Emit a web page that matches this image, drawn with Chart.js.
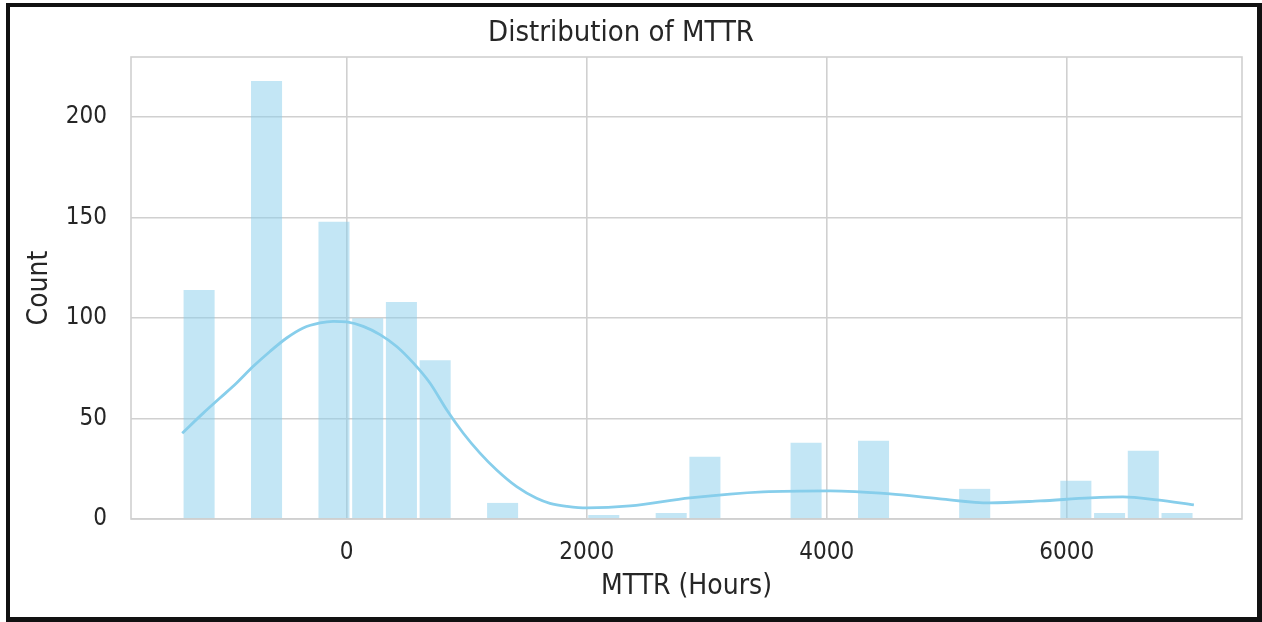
<!DOCTYPE html>
<html>
<head>
<meta charset="utf-8">
<script src="https://cdn.jsdelivr.net/npm/chart.js@4.4.1/dist/chart.umd.min.js"></script>
<style>
  html, body { margin: 0; padding: 0; background: #ffffff; }
  #wrap { position: relative; width: 1262px; height: 622px; overflow: hidden; }
  #frame { position: absolute; left: 6px; top: 3px; width: 1256px; height: 619px; box-sizing: border-box;
           border-style: solid; border-color: #111111; border-width: 4px 5px 5px 4px; pointer-events: none; }
  canvas { position: absolute; left: 0; top: 0; }
</style>
</head>
<body>
<div id="wrap">
  <canvas id="c" width="1262" height="622"></canvas>
  <div id="frame"></div>
</div>
<script>
// ---- Data ----
const binStart = -1370;      // left edge of the first histogram bin (hours)
const binWidth = 281;        // width of each bin (hours)
const binCounts = [114, 0, 218, 0, 148, 100, 108, 79, 0, 8,
                   0, 0, 2, 0, 3, 31, 0, 0, 38, 0,
                   39, 0, 0, 15, 0, 0, 19, 3, 34, 3];
const kdeX = [-1370, -1195, -1056, -917, -778, -639, -500, -362, -222, -112,
              0, 138, 278, 417, 555, 694, 833, 972, 1111, 1250,
              1417, 1583, 1694, 1836, 2003, 2361, 2861, 3469, 4028, 4528, 4944,
              5361, 5778, 6194, 6469, 6753, 7060];
const kdeY = [42.7, 52.7, 60.2, 67.7, 76, 83.4, 90.1, 95.1, 97.6, 98.4,
              98.1, 95.9, 91.8, 85.9, 77.7, 67.7, 54.4, 42.7, 32.8, 24.4,
              16.1, 10.3, 7.8, 6.3, 5.5, 6.5, 10.5, 13.5, 14, 12.5, 10,
              8, 9, 10.5, 11, 9.5, 7];
const xTicks = [0, 2000, 4000, 6000];
const yTicks = [0, 50, 100, 150, 200];
const xRange = [-1797, 7461];
const yRange = [0, 230];
const titleText = 'Distribution of MTTR';
const xLabel = 'MTTR (Hours)';
const yLabel = 'Count';

// ---- Build datasets ----
const barData = binCounts.map((c, i) => ({ x: binStart + binWidth * (i + 0.5), y: c }));
const kdeData = kdeX.map((x, i) => ({ x: x, y: kdeY[i] }));

const FONT = "'DejaVu Sans Condensed', 'DejaVu Sans', sans-serif";
const TEXT = '#262626';
const GRID = '#d0d0d0';

const frameBox = {
  id: 'frameBox',
  afterDatasetsDraw(chart) {
    const { ctx, chartArea: a } = chart;
    ctx.save();
    ctx.strokeStyle = GRID;
    ctx.lineWidth = 1.6;
    ctx.strokeRect(a.left, a.top, a.right - a.left, a.bottom - a.top);
    ctx.restore();
  }
};

new Chart(document.getElementById('c'), {
  type: 'bar',
  data: {
    datasets: [
      {
        type: 'line',
        data: kdeData,
        borderColor: '#87CEEB',
        borderWidth: 2.8,
        pointRadius: 0,
        fill: false,
        cubicInterpolationMode: 'monotone',
        order: 0
      },
      {
        type: 'bar',
        data: barData,
        backgroundColor: 'rgba(135,206,235,0.5)',
        borderWidth: 0,
        categoryPercentage: 1.0,
        barPercentage: 0.92,
        order: 1
      }
    ]
  },
  options: {
    responsive: false,
    animation: false,
    devicePixelRatio: 1,
    layout: { padding: { left: 0, right: 20, top: 0, bottom: 0 } },
    plugins: {
      legend: { display: false },
      tooltip: { enabled: false },
      title: {
        display: true,
        text: titleText,
        color: TEXT,
        font: { family: FONT, size: 29, weight: 'normal', lineHeight: 1.2 },
        padding: { top: 16.5, bottom: 5.7 }
      }
    },
    scales: {
      x: {
        type: 'linear',
        min: xRange[0],
        max: xRange[1],
        offset: false,
        afterBuildTicks: (s) => { s.ticks = xTicks.map(v => ({ value: v })); },
        afterFit: (s) => { s.height = 103; },
        grid: { color: GRID, lineWidth: 1.6, drawTicks: false, offset: false },
        border: { display: false },
        ticks: { color: TEXT, padding: 19, font: { family: FONT, size: 24, lineHeight: 1.2 }, maxRotation: 0,
                 callback: (v) => String(v) },
        title: { display: true, text: xLabel, color: TEXT, font: { family: FONT, size: 28, lineHeight: 1.2 }, padding: { top: 0, bottom: 18 } }
      },
      y: {
        type: 'linear',
        min: yRange[0],
        max: yRange[1],
        afterBuildTicks: (s) => { s.ticks = yTicks.map(v => ({ value: v })); },
        afterFit: (s) => { s.width = 131; },
        grid: { color: GRID, lineWidth: 1.6, drawTicks: false },
        border: { display: false },
        ticks: { color: TEXT, padding: 24, font: { family: FONT, size: 24, lineHeight: 1.2 },
                 callback: (v) => String(v) },
        title: { display: true, text: yLabel, color: TEXT, font: { family: FONT, size: 28, lineHeight: 1.2 }, padding: { top: 23, bottom: 0 } }
      }
    }
  },
  plugins: [frameBox]
});
</script>
</body>
</html>
